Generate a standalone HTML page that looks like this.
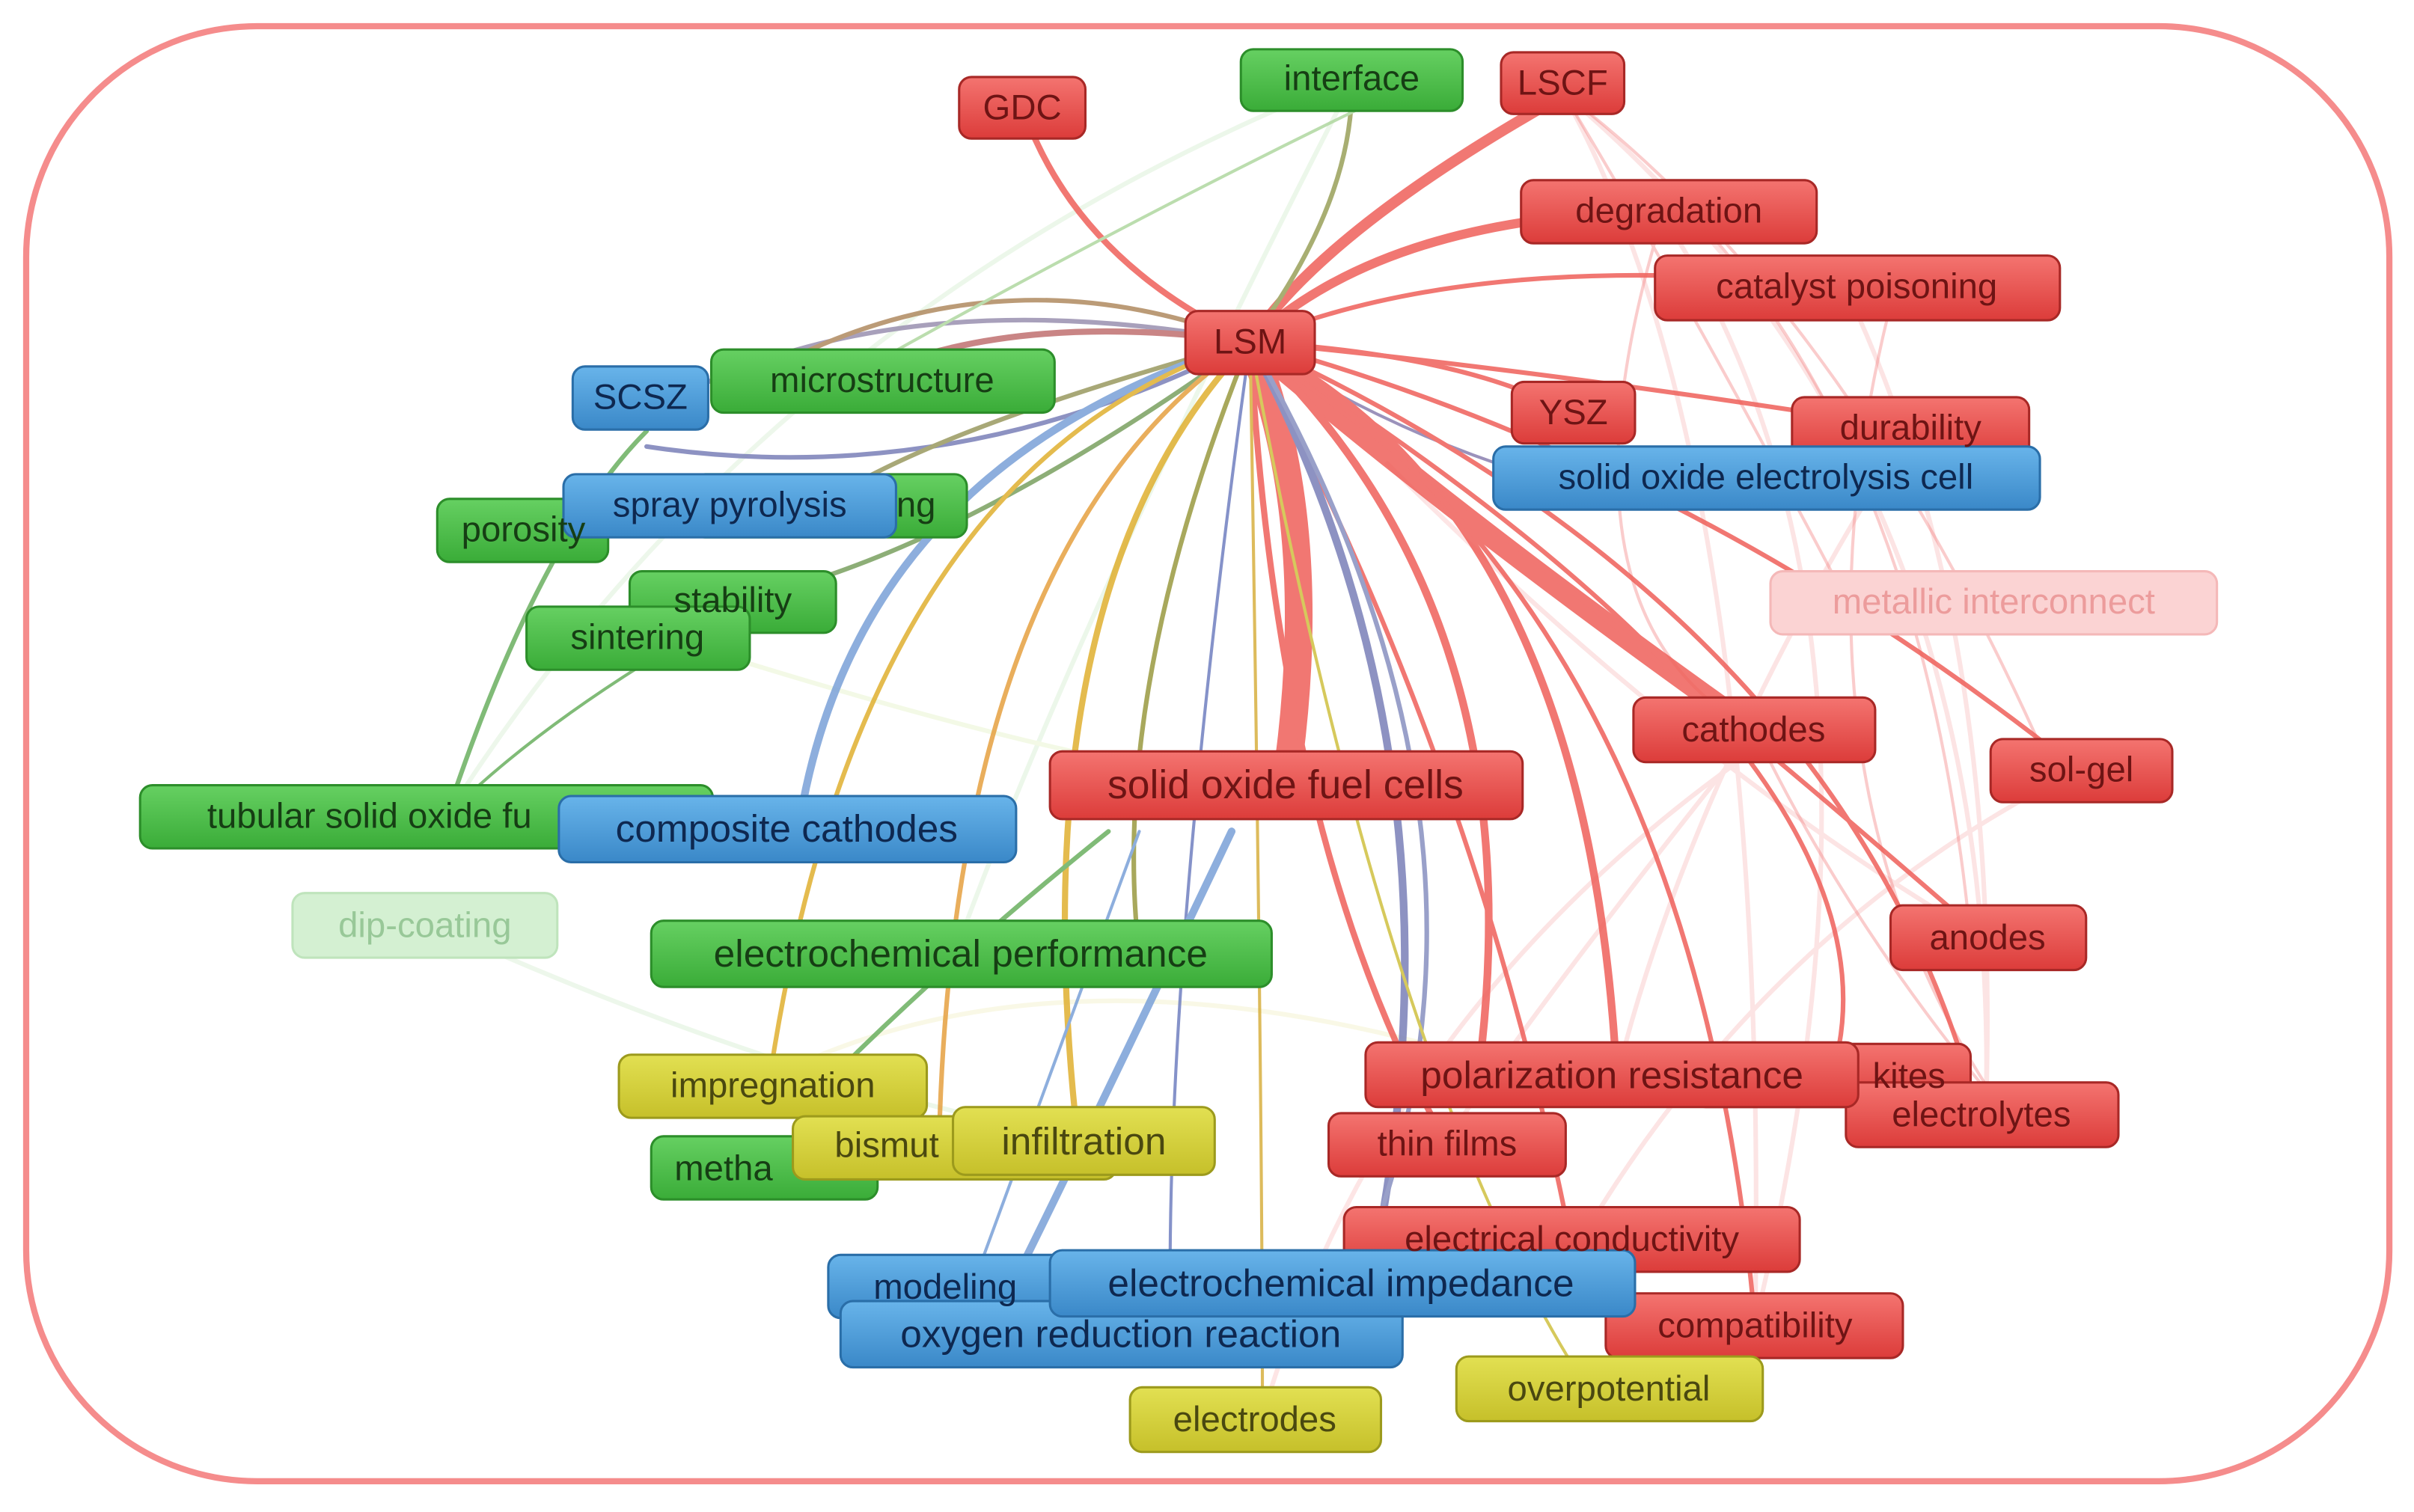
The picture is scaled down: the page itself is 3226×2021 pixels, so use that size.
<!DOCTYPE html>
<html><head><meta charset="utf-8"><style>
html,body{margin:0;padding:0;background:#fff;}
svg{display:block}
text{font-family:"Liberation Sans","DejaVu Sans",sans-serif;font-size:23px;dominant-baseline:central;text-anchor:middle}
.r{fill:#6e1414}.g{fill:#163e14}.b{fill:#0e2850}.y{fill:#4a4810}
</style></head><body>
<svg width="3226" height="2021" viewBox="0 0 1568 982" preserveAspectRatio="none" xmlns="http://www.w3.org/2000/svg">
<rect width="1568" height="982" fill="#fff"/>
<rect x="17" y="17" width="1535" height="945" rx="150" ry="150" fill="none" stroke="#f58c8c" stroke-width="4"/>
<g fill="none" stroke-width="3" opacity="0.18">
<path d="M1015 60 Q1150 300 1140 860" stroke="#f27070"/>
<path d="M1015 60 Q1300 300 1290 720" stroke="#f27070"/>
<path d="M1080 140 Q1250 400 1140 860" stroke="#f27070"/>
<path d="M1200 190 Q1300 400 1290 720" stroke="#f27070"/>
<path d="M1140 475 Q1000 650 940 740" stroke="#f27070"/>
<path d="M1290 610 Q1100 500 900 300" stroke="#f27070"/>
<path d="M1350 500 Q1150 600 1030 800" stroke="#f27070"/>
<path d="M1240 280 Q1100 500 1050 700" stroke="#f27070"/>
<path d="M880 50 Q500 200 290 530" stroke="#9bd48f"/>
<path d="M880 50 Q700 400 620 620" stroke="#9bd48f"/>
<path d="M280 600 Q500 700 700 740" stroke="#9bd48f"/>
<path d="M420 410 Q700 500 830 510" stroke="#bfe37a"/>
<path d="M500 700 Q700 600 1000 700" stroke="#e0dc7a"/>
<path d="M1150 480 Q900 650 820 920" stroke="#f27070"/>
</g>
<g fill="none" stroke-width="2" opacity="0.35">
<path d="M1015 60 Q1100 200 1210 410" stroke="#f27070"/>
<path d="M1015 60 Q1200 200 1330 495" stroke="#f27070"/>
<path d="M1100 140 Q1250 300 1280 610" stroke="#f27070"/>
<path d="M1230 190 Q1150 500 1300 720" stroke="#f27070"/>
<path d="M1140 475 Q1200 600 1300 720" stroke="#f27070"/>
<path d="M1080 140 Q1000 400 1140 475" stroke="#f27070"/>
</g>
<g fill="none" stroke-linecap="round" opacity="0.85">
<path d="M812 222 Q860 150 1010 65" stroke="#ef605a" stroke-width="7"/>
<path d="M812 222 Q900 140 1080 137" stroke="#ef605a" stroke-width="6"/>
<path d="M812 222 Q960 160 1200 187" stroke="#ef605a" stroke-width="3"/>
<path d="M812 222 Q700 170 665 72" stroke="#ef605a" stroke-width="4"/>
<path d="M812 222 Q880 130 878 52" stroke="#9aa05a" stroke-width="3"/>
<path d="M812 222 Q950 230 1020 268" stroke="#ef605a" stroke-width="3"/>
<path d="M812 222 Q1000 240 1240 278" stroke="#ef605a" stroke-width="3"/>
<path d="M812 222 Q900 280 1000 310" stroke="#8a80b0" stroke-width="2"/>
<path d="M812 222 Q950 340 1139 474" stroke="#ef605a" stroke-width="14"/>
<path d="M812 222 Q860 340 835 510" stroke="#ef605a" stroke-width="18"/>
<path d="M812 222 Q1100 300 1350 500" stroke="#ef605a" stroke-width="3"/>
<path d="M812 222 Q1050 400 1290 610" stroke="#ef605a" stroke-width="3"/>
<path d="M812 222 Q1030 330 1050 697" stroke="#ef605a" stroke-width="5"/>
<path d="M812 222 Q1000 400 960 700" stroke="#ef605a" stroke-width="5"/>
<path d="M812 222 Q830 550 940 743" stroke="#ef605a" stroke-width="4"/>
<path d="M812 222 Q960 500 1020 805" stroke="#ef605a" stroke-width="3"/>
<path d="M812 222 Q1100 400 1140 860" stroke="#ef605a" stroke-width="3"/>
<path d="M812 222 Q1200 400 1285 723" stroke="#ef605a" stroke-width="3"/>
<path d="M812 222 Q1250 500 1190 698" stroke="#ef605a" stroke-width="3"/>
<path d="M812 222 Q960 500 890 832" stroke="#7a80b8" stroke-width="5"/>
<path d="M812 222 Q1000 550 880 832" stroke="#8890c0" stroke-width="3"/>
<path d="M812 222 Q580 180 430 263" stroke="#9a90b0" stroke-width="3"/>
<path d="M812 222 Q620 320 420 290" stroke="#7a80b8" stroke-width="3"/>
<path d="M812 222 Q650 160 500 240" stroke="#b08a60" stroke-width="3"/>
<path d="M812 222 Q650 200 550 250" stroke="#c07070" stroke-width="4"/>
<path d="M812 222 Q600 280 530 330" stroke="#9a9a60" stroke-width="3"/>
<path d="M812 222 Q620 360 480 390" stroke="#7aa060" stroke-width="3"/>
<path d="M812 222 Q560 300 520 530" stroke="#7aa0d8" stroke-width="5"/>
<path d="M812 222 Q560 300 500 700" stroke="#e0b030" stroke-width="3"/>
<path d="M812 222 Q620 350 610 740" stroke="#e6a040" stroke-width="3"/>
<path d="M812 222 Q660 380 700 740" stroke="#e0b030" stroke-width="4"/>
<path d="M812 222 Q720 450 740 620" stroke="#9a9a40" stroke-width="3"/>
<path d="M812 222 Q760 600 760 830" stroke="#7080c0" stroke-width="2"/>
<path d="M812 222 Q820 700 820 920" stroke="#d8b040" stroke-width="2"/>
<path d="M812 222 Q900 700 1030 900" stroke="#d0c040" stroke-width="2"/>
<path d="M740 540 Q700 650 630 840" stroke="#7aa0d8" stroke-width="2"/>
<path d="M800 540 Q700 750 650 850" stroke="#7aa0d8" stroke-width="5"/>
<path d="M720 540 Q620 620 540 700" stroke="#6ab060" stroke-width="3"/>
<path d="M880 72 Q720 150 560 240" stroke="#b0d8a0" stroke-width="2"/>
<path d="M420 280 Q350 350 290 530" stroke="#6ab060" stroke-width="3"/>
<path d="M420 430 Q340 480 290 530" stroke="#6ab060" stroke-width="2"/>
</g>
<defs>
<linearGradient id="gr" x1="0" y1="0" x2="0" y2="1"><stop offset="0" stop-color="#f47470"/><stop offset="1" stop-color="#dc3c3a"/></linearGradient>
<linearGradient id="gg" x1="0" y1="0" x2="0" y2="1"><stop offset="0" stop-color="#66d062"/><stop offset="1" stop-color="#3aac38"/></linearGradient>
<linearGradient id="gb" x1="0" y1="0" x2="0" y2="1"><stop offset="0" stop-color="#68b4ea"/><stop offset="1" stop-color="#3a88c8"/></linearGradient>
<linearGradient id="gy" x1="0" y1="0" x2="0" y2="1"><stop offset="0" stop-color="#e2e052"/><stop offset="1" stop-color="#c6c02a"/></linearGradient>
</defs>
<g stroke-width="1.5">
<g fill="url(#gr)" stroke="#a82826">
<rect x="623" y="50" width="82" height="40" rx="8"/>
<rect x="975" y="34" width="80" height="40" rx="8"/>
<rect x="988" y="117" width="192" height="41" rx="8"/>
<rect x="1075" y="166" width="263" height="42" rx="8"/>
<rect x="770" y="202" width="84" height="41" rx="8"/>
<rect x="982" y="248" width="80" height="40" rx="8"/>
<rect x="1164" y="258" width="154" height="41" rx="8"/>
<rect x="1061" y="453" width="157" height="42" rx="8"/>
<rect x="1293" y="480" width="118" height="41" rx="8"/>
<rect x="682" y="488" width="307" height="44" rx="8"/>
<rect x="1228" y="588" width="127" height="42" rx="8"/>
<rect x="1100" y="678" width="180" height="41" rx="8"/>
<rect x="1199" y="703" width="177" height="42" rx="8"/>
<rect x="887" y="677" width="320" height="42" rx="8"/>
<rect x="863" y="723" width="154" height="41" rx="8"/>
<rect x="873" y="784" width="296" height="42" rx="8"/>
<rect x="1043" y="840" width="193" height="42" rx="8"/>
</g>
<rect x="1150" y="371" width="290" height="41" rx="8" fill="#fbd3d3" stroke="#f4b8b8"/>
<rect x="190" y="580" width="172" height="42" rx="8" fill="#d4f0d2" stroke="#bfe4bc"/>
<g fill="url(#gg)" stroke="#2c8e2a">
<rect x="806" y="32" width="144" height="40" rx="8"/>
<rect x="462" y="227" width="223" height="41" rx="8"/>
<rect x="284" y="324" width="111" height="41" rx="8"/>
<rect x="450" y="308" width="178" height="41" rx="8"/>
<rect x="409" y="371" width="134" height="40" rx="8"/>
<rect x="342" y="394" width="145" height="41" rx="8"/>
<rect x="91" y="510" width="372" height="41" rx="8"/>
<rect x="423" y="598" width="403" height="43" rx="8"/>
<rect x="423" y="738" width="147" height="41" rx="8"/>
</g>
<g fill="url(#gy)" stroke="#9c9a1c">
<rect x="402" y="685" width="200" height="41" rx="8"/>
<rect x="515" y="725" width="210" height="41" rx="8"/>
<rect x="619" y="719" width="170" height="44" rx="8"/>
<rect x="946" y="881" width="199" height="42" rx="8"/>
<rect x="734" y="901" width="163" height="42" rx="8"/>
</g>
<g fill="url(#gb)" stroke="#2a6ea8">
<rect x="372" y="238" width="88" height="41" rx="8"/>
<rect x="970" y="290" width="355" height="41" rx="8"/>
<rect x="366" y="308" width="216" height="41" rx="8"/>
<rect x="363" y="517" width="297" height="43" rx="8"/>
<rect x="538" y="815" width="162" height="41" rx="8"/>
<rect x="546" y="845" width="365" height="43" rx="8"/>
<rect x="682" y="812" width="380" height="43" rx="8"/>
</g>
</g>
<g>
<text class="r" x="664" y="70">GDC</text>
<text class="r" x="1015" y="54">LSCF</text>
<text class="g" x="878" y="51">interface</text>
<text class="r" x="1084" y="137">degradation</text>
<text class="r" x="1206" y="186">catalyst poisoning</text>
<text class="r" x="812" y="222">LSM</text>
<text class="b" x="416" y="258">SCSZ</text>
<text class="g" x="573" y="247">microstructure</text>
<text class="r" x="1022" y="268">YSZ</text>
<text class="r" x="1241" y="278">durability</text>
<text class="b" x="1147" y="310">solid oxide electrolysis cell</text>
<text class="g" x="340" y="344">porosity</text>
<text class="g" x="595" y="328">ng</text>
<text class="b" x="474" y="328">spray pyrolysis</text>
<text x="1295" y="391" fill="#ec9c9c">metallic interconnect</text>
<text class="g" x="476" y="390">stability</text>
<text class="g" x="414" y="414">sintering</text>
<text class="r" x="1139" y="474">cathodes</text>
<text class="r" x="1352" y="500">sol-gel</text>
<text class="g" x="240" y="530">tubular solid oxide fu</text>
<text class="r" x="835" y="510" style="font-size:26px">solid oxide fuel cells</text>
<text class="b" x="511" y="538" style="font-size:25px">composite cathodes</text>
<text x="276" y="601" fill="#98c898">dip-coating</text>
<text class="r" x="1291" y="609">anodes</text>
<text class="g" x="624" y="619" style="font-size:25px">electrochemical performance</text>
<text class="y" x="502" y="705">impregnation</text>
<text class="r" x="1240" y="699">kites</text>
<text class="r" x="1287" y="724">electrolytes</text>
<text class="r" x="1047" y="698" style="font-size:25px">polarization resistance</text>
<text class="r" x="940" y="743">thin films</text>
<text class="g" x="470" y="759">metha</text>
<text class="y" x="576" y="744">bismut</text>
<text class="y" x="704" y="741" style="font-size:25px">infiltration</text>
<text class="r" x="1021" y="805">electrical conductivity</text>
<text class="b" x="614" y="836">modeling</text>
<text class="r" x="1140" y="861">compatibility</text>
<text class="b" x="728" y="866" style="font-size:25px">oxygen reduction reaction</text>
<text class="b" x="871" y="833" style="font-size:25px">electrochemical impedance</text>
<text class="y" x="1045" y="902">overpotential</text>
<text class="y" x="815" y="922">electrodes</text>
</g>
</svg>
</body></html>
